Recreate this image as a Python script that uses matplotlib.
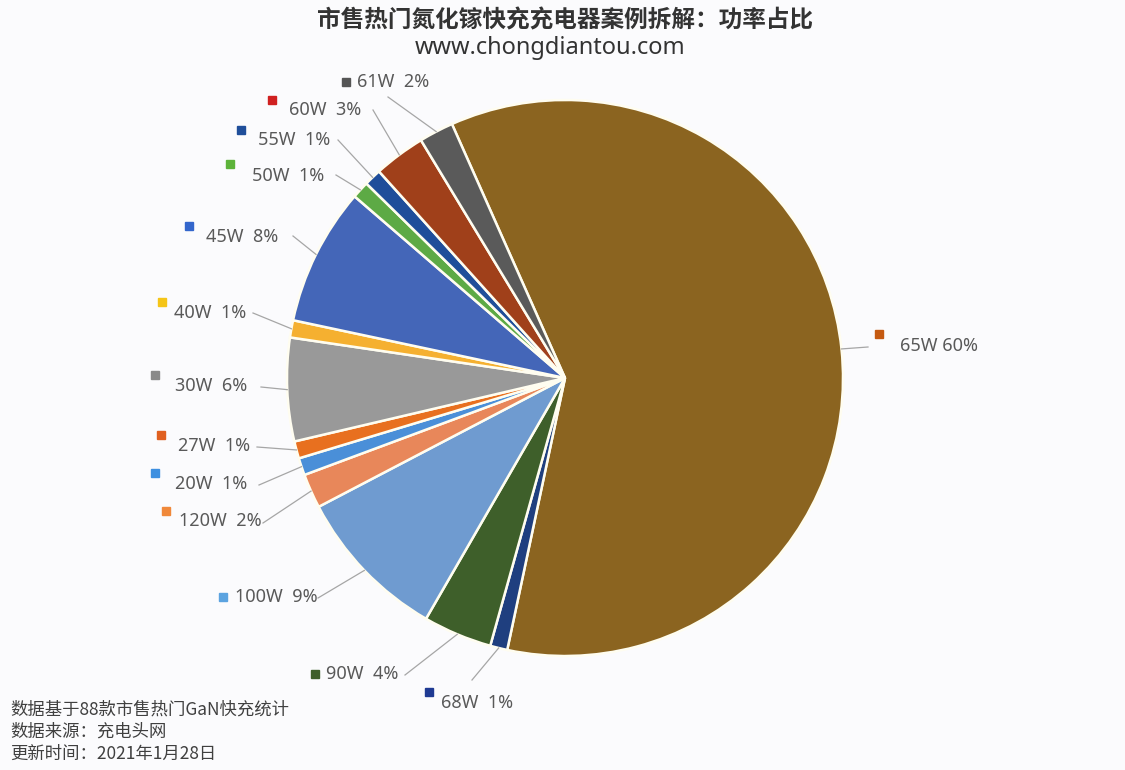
import matplotlib
matplotlib.use("Agg")
import matplotlib.pyplot as plt
import numpy as np

# ---------------- data ----------------
categories = ["65W", "68W", "90W", "100W", "120W", "20W", "27W", "30W",
              "40W", "45W", "50W", "55W", "60W", "61W"]
shares = [60, 1, 4, 9, 2, 1, 1, 6, 1, 8, 1, 1, 3, 2]
label_texts = ["65W 60%", "68W  1%", "90W  4%", "100W  9%", "120W  2%",
               "20W  1%", "27W  1%", "30W  6%", "40W  1%", "45W  8%",
               "50W  1%", "55W  1%", "60W  3%", "61W  2%"]

title = "市售热门氮化镓快充充电器案例拆解：功率占比"
subtitle = "www.chongdiantou.com"
notes = ["数据基于88款市售热门GaN快充统计", "数据来源：充电头网", "更新时间：2021年1月28日"]

# ---------------- style ----------------
slice_colors = ["#8B6420", "#1F3F7F", "#3E5F2A", "#6F9BD0", "#E8875A",
                "#4A8FD8", "#E8701F", "#999999", "#F5B030", "#4466B8",
                "#5DAA45", "#1F4E9A", "#A0401A", "#5A5A5A"]
marker_colors = ["#C55A11", "#1F3A93", "#3E5F2A", "#5BA3E0", "#F0883A",
                 "#3D8FE0", "#E06020", "#8A8A8A", "#F5C518", "#3366CC",
                 "#5DB33A", "#1F4E9A", "#D02020", "#555555"]

W, H = 1125, 770
cx, cy, R = 565, 378, 278   # pixel coords (y from top)

# label layout in pixels (y from top): marker pos, text left/centre, leader start
marker_pos = [(879, 334), (429, 692), (315, 674), (223, 597), (166, 511),
              (155, 473), (161, 435), (155, 375), (162, 302), (189, 226),
              (230, 164), (241, 130), (272, 100), (346, 82)]
text_pos = [(900, 346), (441, 703), (326, 674), (235, 597), (179, 521),
            (175, 484), (178, 446), (175, 386), (174, 313), (206, 237),
            (252, 176), (258, 140), (289, 110), (357, 82)]
leader_start = [(868, 347), (472, 680), (405, 675), (318, 598), (263, 523),
                (259, 485), (257, 447), (261, 387), (253, 313), (293, 236),
                (336, 175), (338, 140), (373, 110), (388, 97)]

bg = "#FBFBFD"
fig = plt.figure(figsize=(W / 100, H / 100), dpi=100, facecolor=bg)
ax = fig.add_axes([0, 0, 1, 1])
ax.set_facecolor(bg)

def fy(y):
    return H - y

startangle = 114
wedges, _ = ax.pie(shares, colors=slice_colors, startangle=startangle,
                   counterclock=False, center=(cx, fy(cy)), radius=R,
                   wedgeprops=dict(edgecolor="#FFFDF0", linewidth=1.8),
                   frame=True)
ax.set_xlim(0, W)
ax.set_ylim(0, H)
ax.axis("off")

label_font = dict(family=["Noto Sans", "DejaVu Sans"], fontsize=13,
                  fontweight="light", color="#595959")
for i, w in enumerate(wedges):
    mid = np.deg2rad((w.theta1 + w.theta2) / 2)
    ex = cx + R * np.cos(mid)
    ey = fy(cy) + R * np.sin(mid)
    sx, sy = leader_start[i]
    ax.plot([sx, ex], [fy(sy), ey], color="#A6A6A6", lw=0.9, zorder=3)
    mx, my = marker_pos[i]
    ax.plot(mx, fy(my), marker="s", ms=5.5, color=marker_colors[i],
            mec=marker_colors[i], zorder=4)
    tx, ty = text_pos[i]
    ax.text(tx, fy(ty), label_texts[i], ha="left", va="center", **label_font)

cjk = ["Noto Sans CJK SC", "DejaVu Sans"]
ax.text(565, fy(20), title, ha="center", va="center", family=cjk,
        fontsize=17, fontweight="bold", color="#333333")
ax.text(550, fy(48), subtitle, ha="center", va="center",
        family=["Noto Sans", "DejaVu Sans"], fontsize=17, color="#333333")

for k, line in enumerate(notes):
    ax.text(10, fy(710 + 22 * k), line, ha="left", va="center", family=cjk,
            fontsize=12.5, color="#404040")

fig.savefig("out.png", dpi=100, facecolor=bg)
